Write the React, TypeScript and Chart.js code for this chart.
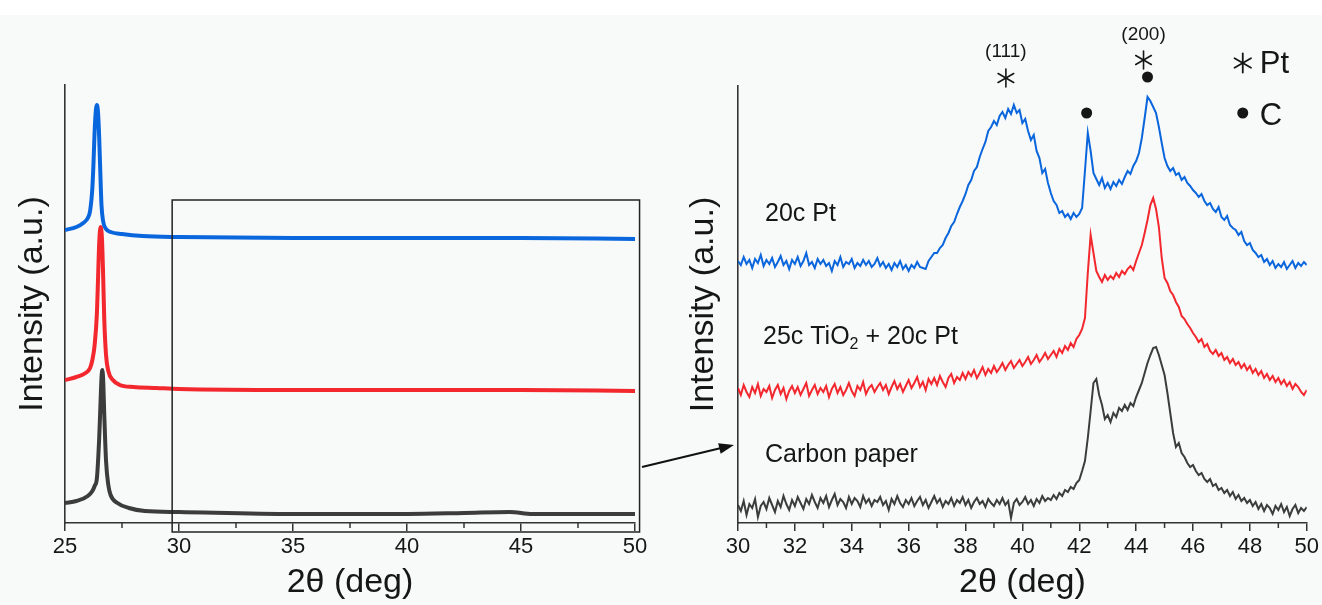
import React, { useEffect, useRef } from "react";
import { Chart, registerables } from "chart.js";

Chart.register(...registerables);

const FONT = '"Liberation Sans", Arial, Helvetica, sans-serif';
const BLUE = "#0a66dc";
const RED = "#f2282e";
const GREY = "#3c3c3c";
const INK = "#161616";

// ---------- Left panel: overview 25–50° ----------
const leftTicks = [25, 30, 35, 40, 45, 50];
const leftMinorTicks = [27.5, 32.5, 37.5, 42.5, 47.5];

const leftBlueX = [25.0, 25.5, 25.8, 26.0, 26.1, 26.2, 26.25, 26.3, 26.36, 26.4, 26.45, 26.5, 26.55, 26.6, 26.67, 26.8, 27.0, 27.5, 28.4, 30, 35, 40, 45, 50];
const leftBlueY = [293, 296, 300, 305, 312, 335, 360, 392, 414, 418, 410, 385, 350, 318, 302, 294, 291, 289, 287, 286, 285, 285, 285, 284];

const leftRedX = [25.0, 25.5, 25.9, 26.1, 26.2, 26.3, 26.4, 26.45, 26.5, 26.56, 26.62, 26.67, 26.72, 26.8, 26.9, 27.1, 27.4, 28.0, 29.0, 30, 35, 40, 45, 50];
const leftRedY = [143, 146, 150, 155, 163, 178, 210, 245, 280, 296, 285, 250, 205, 168, 152, 143, 138, 136, 135, 134, 133, 133, 133, 132];

const leftBlackX = [25.0, 25.5, 26.0, 26.2, 26.3, 26.4, 26.5, 26.55, 26.6, 26.64, 26.68, 26.72, 26.8, 26.9, 27.0, 27.3, 27.8, 28.5, 30, 35, 40, 42.5, 44.5, 45.5, 50];
const leftBlackY = [20, 22, 27, 32, 37, 45, 85, 115, 145, 153, 140, 110, 62, 38, 28, 20, 15, 12, 11, 9, 9, 10, 11, 9, 9];

const zoomBoxTheta = [29.7, 50.2];
const zoomBoxIntensity = [-9, 323];

// ---------- Right panel: zoom 30–50° (0.1° sampling) ----------
const rightTicks = [30, 32, 34, 36, 38, 40, 42, 44, 46, 48, 50];
const rightMinorTicks = [31, 33, 35, 37, 39, 41, 43, 45, 47, 49];
const rightTheta = Array.from({ length: 201 }, (_, i) => Math.round((30 + i * 0.1) * 10) / 10);

const pt20 = [
  262, 258, 266, 259, 263, 255, 264, 260, 268, 257,
  263, 259, 265, 256, 261, 267, 258, 262, 254, 263,
  259, 266, 257, 262, 270, 258, 261, 255, 264, 259,
  263, 257, 260, 252, 262, 258, 266, 256, 261, 259,
  264, 255, 260, 257, 263, 258, 262, 256, 259, 265,
  257, 261, 255, 259, 253, 260, 256, 262, 254, 258,
  252, 258, 255, 261, 256, 255, 254, 262, 266, 270,
  270, 275, 278, 285, 290, 297, 301, 309, 316, 322,
  329, 338, 343, 352, 356, 366, 374, 381, 392, 396,
  402, 398, 407, 411, 405, 414, 409, 418, 410, 413,
  400, 404, 392, 383, 388, 372, 365, 350, 354, 340,
  330, 322, 318, 310, 312, 306, 309, 304, 310, 306,
  309, 315, 352, 390, 372, 350, 344, 338, 345, 335,
  340, 334, 341, 337, 343, 339, 346, 352, 349, 357,
  362, 370, 385, 405, 426, 422, 416, 410, 396, 380,
  365, 357, 352, 355, 348, 350, 343, 346, 340, 337,
  333, 330, 326, 329, 322, 318, 320, 314, 311, 316,
  306, 303, 307, 298, 295, 293, 288, 291, 282, 278,
  280, 273, 270, 266, 268, 261, 264, 258, 262, 255,
  259, 256, 261, 254, 258, 262, 255, 260, 257, 261, 258,
];

const tio2Pt = [
  135, 128, 138, 131, 126, 136, 130, 139, 127, 134,
  131, 137, 125, 133, 138, 129, 135, 124, 132, 137,
  130, 136, 128, 134, 140, 127, 133, 138, 129, 135,
  131, 137, 126, 134, 139, 130, 136, 128, 133, 140,
  132, 127, 137, 133, 141, 129, 135, 138, 131, 136,
  140, 133, 138, 129, 136, 142, 134, 139, 131, 137,
  143, 135, 140, 146, 136, 141, 133, 144, 139, 145,
  138, 147, 141, 136, 145, 149, 140, 146, 143, 150,
  144, 151, 147, 153, 145, 150, 156, 148, 154, 150,
  157, 151, 155, 160, 153, 158, 162, 155, 159, 163,
  157, 161, 166, 159, 163, 168, 161, 165, 170, 164,
  168, 172, 166, 174, 170, 177, 173, 180, 176, 184,
  188, 194, 205, 250, 288, 270, 252, 246, 241, 248,
  243, 247, 244, 250, 246, 252, 249, 254, 257, 253,
  262, 270, 278, 290, 303, 318, 325, 314, 296, 265,
  245, 240, 232, 228, 221, 216, 207, 204, 199, 195,
  190, 186, 181, 184, 176, 179, 172, 169, 173, 167,
  170, 163, 166, 160, 164, 158, 161, 155, 159, 153,
  157, 150, 154, 148, 152, 145, 149, 143, 147, 141,
  145, 139, 143, 137, 141, 134, 139, 136, 131, 128, 133,
];

const carbonPaper = [
  18, 12, 22, 8, 19, 15, 24, 6, 17, 21,
  14, 25, 18, 11, 22, 16, 27, 19, 13, 23,
  17, 26, 20, 14, 24, 19, 28, 21, 15, 25,
  20, 27, 16, 23, 29, 18, 24, 21, 15, 26,
  19, 25, 22, 16, 27, 20, 24, 17, 23, 21,
  26, 18, 22, 13, 24, 19, 27, 20, 16, 23,
  19, 25, 17, 22, 26, 18, 23, 15, 21, 27,
  20, 24, 16, 22, 19, 25, 17, 23, 20, 26,
  18, 23, 15, 21, 25, 19, 22, 16, 24, 20,
  17, 23, 19, 25, 18, 22, 5, 20, 24, 18,
  21, 26, 19, 23, 17, 24, 20, 27, 22, 25,
  23, 28, 24, 30, 27, 33, 31, 36, 34, 40,
  43, 52, 62, 85, 112, 140, 144, 128, 118, 104,
  108, 101, 110, 106, 115, 112, 118, 113, 120, 117,
  126, 133, 140, 150, 160, 168, 175, 176, 168, 158,
  148, 130, 110, 90, 76, 80, 70, 66, 60, 56,
  58, 52, 48, 50, 44, 41, 44, 37, 39, 33,
  35, 30, 33, 27, 31, 24, 28, 22, 25, 20,
  23, 17, 21, 14, 19, 12, 18, 15, 9, 17,
  13, 19, 11, 16, 7, 14, 18, 10, 15, 12, 16,
];

const ptMarkTheta = [39.42, 44.26];
const ptMarkLabels = ["(111)", "(200)"];
const cMarkTheta = [42.26, 44.4];

const toPoints = (xs: number[], ys: number[]) => xs.map((x, i) => ({ x, y: ys[i] }));

function drawAsterisk(ctx: CanvasRenderingContext2D, cx: number, cy: number, r: number, lw: number) {
  ctx.save();
  ctx.strokeStyle = INK;
  ctx.lineWidth = lw;
  ctx.lineCap = "round";
  for (let k = 0; k < 3; k++) {
    const a = Math.PI / 2 + (k * Math.PI) / 3;
    ctx.beginPath();
    ctx.moveTo(cx - r * Math.cos(a), cy - r * Math.sin(a));
    ctx.lineTo(cx + r * Math.cos(a), cy + r * Math.sin(a));
    ctx.stroke();
  }
  ctx.restore();
}

function drawDot(ctx: CanvasRenderingContext2D, cx: number, cy: number, r: number) {
  ctx.save();
  ctx.fillStyle = INK;
  ctx.beginPath();
  ctx.arc(cx, cy, r, 0, Math.PI * 2);
  ctx.fill();
  ctx.restore();
}

const minorTickPlugin = (minor: number[]) => ({
  id: "minorTicks",
  afterDraw(chart: any) {
    const { ctx, chartArea, scales } = chart;
    const x = scales.x;
    ctx.save();
    ctx.strokeStyle = "#333";
    ctx.lineWidth = 1.5;
    minor.forEach((v) => {
      const px = x.getPixelForValue(v);
      ctx.beginPath();
      ctx.moveTo(px, chartArea.bottom);
      ctx.lineTo(px, chartArea.bottom + 5);
      ctx.stroke();
    });
    ctx.restore();
  },
});

const leftOverlay = {
  id: "leftOverlay",
  afterDraw(chart: any) {
    const { ctx, scales } = chart;
    const x0 = scales.x.getPixelForValue(zoomBoxTheta[0]);
    const x1 = scales.x.getPixelForValue(zoomBoxTheta[1]);
    const y0 = scales.y.getPixelForValue(zoomBoxIntensity[1]);
    const y1 = scales.y.getPixelForValue(zoomBoxIntensity[0]);
    ctx.save();
    ctx.strokeStyle = "#222";
    ctx.lineWidth = 1.5;
    ctx.strokeRect(x0, y0, x1 - x0, y1 - y0);
    ctx.restore();
  },
};

const rightOverlay = {
  id: "rightOverlay",
  afterDraw(chart: any) {
    const { ctx, chartArea, scales } = chart;
    const x = scales.x;
    ctx.save();
    ctx.fillStyle = INK;
    ctx.textBaseline = "middle";
    ctx.textAlign = "left";

    // sample names
    const lx = chartArea.left + 27;
    ctx.font = `25px ${FONT}`;
    ctx.fillText("20c Pt", lx, 214);
    let cx = lx - 2;
    const part1 = "25c TiO";
    ctx.fillText(part1, cx, 337);
    cx += ctx.measureText(part1).width;
    ctx.font = `16px ${FONT}`;
    ctx.fillText("2", cx, 345);
    cx += ctx.measureText("2").width;
    ctx.font = `25px ${FONT}`;
    ctx.fillText(" + 20c Pt", cx, 337);
    ctx.fillText("Carbon paper", lx, 455);

    // Pt reflections
    const astY = [78, 60];
    const labY = [52, 35];
    ptMarkTheta.forEach((t, i) => {
      const px = x.getPixelForValue(t);
      drawAsterisk(ctx, px, astY[i], 9, 1.6);
      ctx.font = `19px ${FONT}`;
      ctx.textAlign = "center";
      ctx.fillStyle = INK;
      ctx.fillText(ptMarkLabels[i], px, labY[i]);
    });
    // C reflections
    const dotY = [113, 77];
    cMarkTheta.forEach((t, i) => {
      drawDot(ctx, x.getPixelForValue(t), dotY[i], 5.5);
    });

    // key
    const kx = chartArea.right - 64;
    drawAsterisk(ctx, kx, 63, 9.5, 1.8);
    drawDot(ctx, kx, 113, 5.5);
    ctx.font = `31px ${FONT}`;
    ctx.textAlign = "left";
    ctx.fillStyle = INK;
    ctx.fillText("Pt", kx + 17, 64);
    ctx.fillText("C", kx + 17, 116);

    // arrow from the zoom box
    const ax0 = 2, ay0 = 467, ax1 = chartArea.left - 4, ay1 = 445;
    const ang = Math.atan2(ay1 - ay0, ax1 - ax0);
    ctx.strokeStyle = "#111";
    ctx.lineWidth = 2;
    ctx.beginPath();
    ctx.moveTo(ax0, ay0);
    ctx.lineTo(ax1 - 10 * Math.cos(ang), ay1 - 10 * Math.sin(ang));
    ctx.stroke();
    ctx.fillStyle = "#111";
    ctx.beginPath();
    ctx.moveTo(ax1, ay1);
    ctx.lineTo(ax1 - 15 * Math.cos(ang) + 5.5 * Math.sin(ang), ay1 - 15 * Math.sin(ang) - 5.5 * Math.cos(ang));
    ctx.lineTo(ax1 - 15 * Math.cos(ang) - 5.5 * Math.sin(ang), ay1 - 15 * Math.sin(ang) + 5.5 * Math.cos(ang));
    ctx.closePath();
    ctx.fill();
    ctx.restore();
  },
};

function xAxis(min: number, max: number, majors: number[]) {
  return {
    type: "linear" as const,
    min,
    max,
    afterBuildTicks: (s: any) => {
      s.ticks = majors.map((v) => ({ value: v }));
    },
    afterFit: (s: any) => {
      s.height = 82;
    },
    ticks: {
      autoSkip: false,
      maxRotation: 0,
      color: INK,
      padding: 3,
      font: { family: FONT, size: 22 },
      callback: (v: any) => String(v),
    },
    grid: { display: true, drawOnChartArea: false, drawTicks: true, tickLength: 8, color: "#333", lineWidth: 1.5 },
    border: { display: true, color: "#333", width: 1.6 },
    title: {
      display: true,
      text: "2θ (deg)",
      color: INK,
      font: { family: FONT, size: 34 },
      padding: { top: 0, bottom: 2 },
    },
  };
}

function yAxis(max: number, width: number, titlePad: number) {
  return {
    type: "linear" as const,
    min: 0,
    max,
    afterFit: (s: any) => {
      s.width = width;
    },
    ticks: { display: false },
    grid: { display: false },
    border: { display: true, color: "#333", width: 1.6 },
    title: {
      display: true,
      text: "Intensity (a.u.)",
      color: INK,
      font: { family: FONT, size: 34 },
      padding: { top: titlePad, bottom: 0 },
    },
  };
}

export default function App() {
  const leftRef = useRef<HTMLCanvasElement | null>(null);
  const rightRef = useRef<HTMLCanvasElement | null>(null);

  useEffect(() => {
    if (!leftRef.current || !rightRef.current) return;
    const left = new Chart(leftRef.current, {
      type: "line",
      data: {
        datasets: [
          { data: toPoints(leftBlueX, leftBlueY), borderColor: BLUE, borderWidth: 4 },
          { data: toPoints(leftRedX, leftRedY), borderColor: RED, borderWidth: 4 },
          { data: toPoints(leftBlackX, leftBlackY), borderColor: GREY, borderWidth: 4 },
        ].map((d) => ({ ...d, pointRadius: 0, cubicInterpolationMode: "monotone" as const, fill: false })),
      },
      options: {
        responsive: false,
        animation: false,
        devicePixelRatio: 1,
        layout: { padding: { top: 85, right: 25, left: 0, bottom: 0 } },
        scales: { x: xAxis(25, 50, leftTicks) as any, y: yAxis(438, 65, 12) as any },
        plugins: { legend: { display: false }, tooltip: { enabled: false } },
      },
      plugins: [minorTickPlugin(leftMinorTicks), leftOverlay],
    });

    const right = new Chart(rightRef.current, {
      type: "line",
      data: {
        datasets: [
          { data: toPoints(rightTheta, pt20), borderColor: BLUE },
          { data: toPoints(rightTheta, tio2Pt), borderColor: RED },
          { data: toPoints(rightTheta, carbonPaper), borderColor: GREY },
        ].map((d) => ({ ...d, borderWidth: 2, pointRadius: 0, tension: 0, fill: false })),
      },
      options: {
        responsive: false,
        animation: false,
        devicePixelRatio: 1,
        layout: { padding: { top: 86, right: 13, left: 0, bottom: 0 } },
        scales: { x: xAxis(30, 50, rightTicks) as any, y: yAxis(437, 98, 43) as any },
        plugins: { legend: { display: false }, tooltip: { enabled: false } },
      },
      plugins: [minorTickPlugin(rightMinorTicks), rightOverlay],
    });

    return () => {
      left.destroy();
      right.destroy();
    };
  }, []);

  return (
    <div style={{ position: "fixed", left: 0, top: 0, width: 1322, height: 605, background: "#f8f9f9", overflow: "hidden" }}>
      <div style={{ position: "absolute", left: 0, top: 0, width: 1322, height: 15, background: "#ffffff" }} />
      <canvas ref={leftRef} width={660} height={605} style={{ position: "absolute", left: 0, top: 0, width: 660, height: 605 }} />
      <canvas ref={rightRef} width={682} height={605} style={{ position: "absolute", left: 640, top: 0, width: 682, height: 605 }} />
    </div>
  );
}
